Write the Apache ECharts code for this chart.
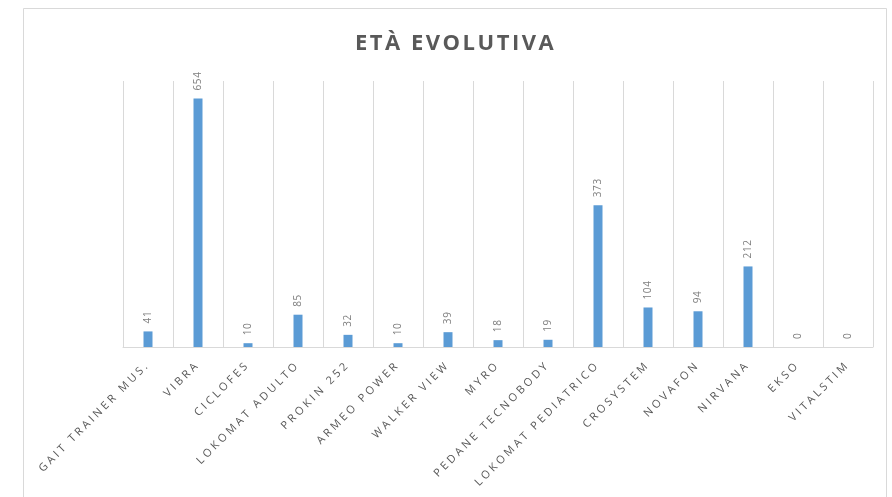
<!DOCTYPE html>
<html>
<head>
<meta charset="utf-8">
<script src="https://cdn.jsdelivr.net/npm/echarts@6/dist/echarts.min.js"></script>
<style>
html,body{margin:0;padding:0;background:#fff;}
#c{width:892px;height:497px;}
</style>
</head>
<body>
<div id="c"></div>
<script>
const titleText = 'ETÀ EVOLUTIVA';
const categories = ['GAIT TRAINER MUS.', 'VIBRA', 'CICLOFES', 'LOKOMAT ADULTO', 'PROKIN 252', 'ARMEO POWER', 'WALKER VIEW', 'MYRO', 'PEDANE TECNOBODY', 'LOKOMAT PEDIATRICO', 'CROSYSTEM', 'NOVAFON', 'NIRVANA', 'EKSO', 'VITALSTIM'];
const values = [41, 654, 10, 85, 32, 10, 39, 18, 19, 373, 104, 94, 212, 0, 0];

// Letter spacing (Excel-like spaced text), chosen by font size
(function () {
  const proto = CanvasRenderingContext2D.prototype;
  if (!('letterSpacing' in proto)) return;
  const pick = function (font) {
    if (font.indexOf('11px') >= 0) return '3px';
    if (font.indexOf('22px') >= 0) return '2.5px';
    if (font.indexOf('10px') >= 0) return '0.6px';
    return '0px';
  };
  ['fillText', 'strokeText', 'measureText'].forEach(function (n) {
    const orig = proto[n];
    proto[n] = function () {
      this.letterSpacing = pick(this.font || '');
      return orig.apply(this, arguments);
    };
  });
})();

const chart = echarts.init(document.getElementById('c'));
chart.setOption({
  backgroundColor: '#ffffff',
  animation: false,
  graphic: [{
    type: 'rect',
    shape: { x: 23.5, y: 8.5, width: 863, height: 520 },
    style: { fill: 'none', stroke: '#d9d9d9', lineWidth: 1 },
    silent: true
  }],
  title: {
    text: titleText,
    left: 350,
    top: 26,
    textStyle: { fontFamily: 'Open Sans', fontWeight: 'bold', fontSize: 22, color: '#595959' }
  },
  grid: { left: 123, right: 19, top: 81, bottom: 150, containLabel: false },
  xAxis: {
    type: 'category',
    data: categories,
    boundaryGap: true,
    axisLine: { show: true, lineStyle: { color: '#d9d9d9', width: 1 } },
    axisTick: { show: false },
    splitLine: { show: true, lineStyle: { color: '#d9d9d9', width: 1 } },
    axisLabel: {
      interval: 0,
      rotate: 45,
      margin: 16,
      color: '#595959',
      fontFamily: 'Open Sans',
      fontSize: 11
    }
  },
  yAxis: {
    type: 'value',
    min: 0,
    max: 700,
    show: false,
    splitLine: { show: false }
  },
  series: [{
    type: 'bar',
    data: values,
    barWidth: 9,
    itemStyle: { color: '#5b9bd5' },
    label: {
      show: true,
      position: 'top',
      rotate: 90,
      align: 'left',
      verticalAlign: 'middle',
      distance: 8,
      color: '#7f7f7f',
      fontFamily: 'Open Sans',
      fontSize: 10
    }
  }]
});
</script>
</body>
</html>
